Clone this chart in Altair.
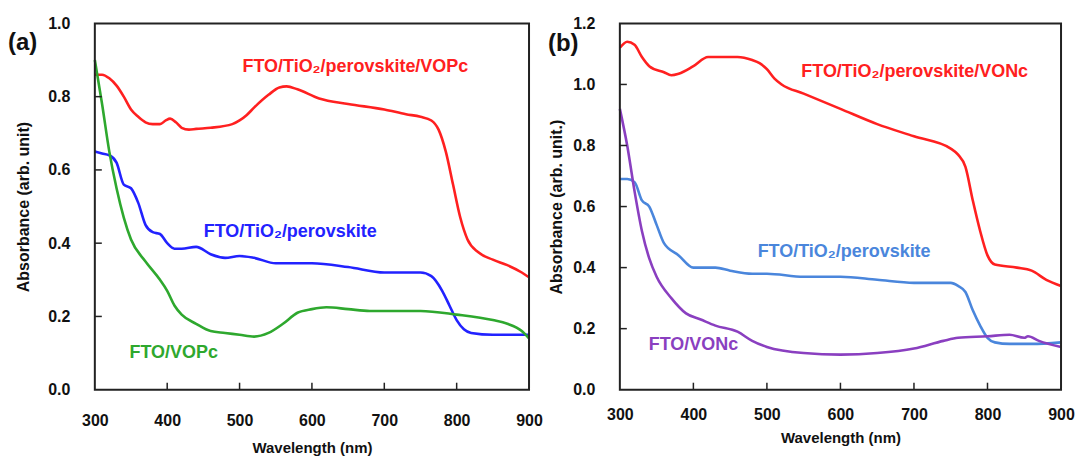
import altair as alt
import pandas as pd

# ---------------- Panel (a) data ----------------
a_red_wl = [300, 310, 320, 330, 340, 350, 360, 370, 380, 390, 398, 404, 412, 420, 430, 440, 460, 490, 500, 510,
            520, 540, 555, 565, 580, 610, 650, 700, 730, 750, 765, 775, 785, 795, 805, 815, 830, 850, 870, 890, 900]
a_red_ab = [0.86, 0.86, 0.85, 0.83, 0.80, 0.765, 0.745, 0.73, 0.725, 0.725, 0.735, 0.74, 0.73, 0.715, 0.71, 0.712,
            0.715, 0.725, 0.735, 0.75, 0.77, 0.805, 0.825, 0.828, 0.82, 0.795, 0.78, 0.765, 0.752, 0.745, 0.735,
            0.71, 0.65, 0.56, 0.47, 0.41, 0.375, 0.355, 0.34, 0.32, 0.307]

a_blue_wl = [300, 310, 320, 330, 340, 350, 360, 370, 380, 390, 400, 410, 420, 440, 460, 480, 500, 520, 550, 600,
             650, 700, 720, 750, 765, 780, 790, 800, 810, 820, 850, 900]
a_blue_ab = [0.65, 0.645, 0.64, 0.62, 0.56, 0.55, 0.51, 0.45, 0.43, 0.425, 0.40, 0.385, 0.385, 0.39, 0.37, 0.36,
             0.365, 0.36, 0.345, 0.345, 0.335, 0.32, 0.32, 0.32, 0.31, 0.27, 0.23, 0.19, 0.165, 0.155, 0.15, 0.15]

a_green_wl = [300, 310, 320, 330, 340, 350, 370, 390, 400, 410, 420, 440, 460, 480, 500, 520, 540, 560, 580, 600,
              620, 650, 680, 700, 750, 800, 850, 870, 890, 900]
a_green_ab = [0.90, 0.78, 0.65, 0.55, 0.47, 0.41, 0.35, 0.30, 0.27, 0.23, 0.205, 0.18, 0.16, 0.155, 0.15, 0.145,
              0.155, 0.18, 0.21, 0.22, 0.225, 0.22, 0.215, 0.215, 0.215, 0.205, 0.19, 0.18, 0.16, 0.14]

a_series = ["FTO/TiO₂/perovskite/VOPc", "FTO/TiO₂/perovskite", "FTO/VOPc"]
a_colors = ["#ff2020", "#2222ff", "#2ea82e"]
a_label_wl = [660, 570, 409]
a_label_ab = [0.88, 0.43, 0.10]

# ---------------- Panel (b) data ----------------
b_red_wl = [300, 310, 320, 330, 340, 360, 370, 380, 400, 420, 440, 460, 480, 490, 500, 510, 520, 550, 600, 650,
            700, 750, 760, 770, 780, 790, 800, 810, 840, 860, 880, 900]
b_red_ab = [1.12, 1.14, 1.13, 1.09, 1.06, 1.04, 1.03, 1.035, 1.06, 1.09, 1.09, 1.09, 1.08, 1.07, 1.05, 1.02, 1.0,
            0.97, 0.92, 0.87, 0.83, 0.79, 0.77, 0.73, 0.62, 0.52, 0.44, 0.41, 0.40, 0.39, 0.36, 0.34]

b_blue_wl = [300, 310, 320, 330, 340, 350, 360, 380, 400, 430, 450, 480, 500, 550, 600, 650, 700, 750, 760, 770,
             780, 790, 800, 810, 830, 860, 900]
b_blue_ab = [0.69, 0.69, 0.68, 0.62, 0.60, 0.54, 0.48, 0.44, 0.40, 0.40, 0.39, 0.38, 0.38, 0.37, 0.37, 0.36, 0.35,
             0.35, 0.34, 0.32, 0.26, 0.21, 0.17, 0.155, 0.15, 0.15, 0.155]

b_purple_wl = [300, 310, 320, 330, 340, 350, 370, 390, 410, 430, 460, 480, 500, 550, 600, 650, 700, 740, 760, 800,
               830, 850, 855, 870, 900]
b_purple_ab = [0.92, 0.80, 0.65, 0.52, 0.43, 0.37, 0.30, 0.25, 0.23, 0.21, 0.19, 0.16, 0.14, 0.12, 0.115, 0.12,
               0.135, 0.16, 0.17, 0.175, 0.18, 0.17, 0.175, 0.16, 0.14]

b_series = ["FTO/TiO₂/perovskite/VONc", "FTO/TiO₂/perovskite ", "FTO/VONc"]
b_colors = ["#ff2020", "#4a86dc", "#8a3fc0"]
b_label_wl = [701, 605, 400]
b_label_ab = [1.04, 0.45, 0.145]

x_values = [300, 400, 500, 600, 700, 800, 900]
x_inner_ticks = [400, 500, 600, 700, 800]
a_y_values = [0.0, 0.2, 0.4, 0.6, 0.8, 1.0]
a_y_inner = [0.2, 0.4, 0.6, 0.8]
b_y_values = [0.0, 0.2, 0.4, 0.6, 0.8, 1.0, 1.2]
b_y_inner = [0.2, 0.4, 0.6, 0.8, 1.0]

FONT = "Liberation Sans"


def make_df(wls, abss, names):
    rows = []
    for wl, ab, nm in zip(wls, abss, names):
        for w, v in zip(wl, ab):
            rows.append({"wl": w, "ab": v, "series": nm})
    return pd.DataFrame(rows)


def panel(df, series, colors, lab_wl, lab_ab, ymax, yvals, yinner, ytitle, tag,
          w, h, xlabpad, xtitlepad, ylabpad, ytitlepad, tagx, tagy):
    xs = alt.Scale(domain=[300, 900], nice=False, zero=False)
    ys = alt.Scale(domain=[0, ymax], nice=False)
    xaxis = alt.Axis(values=x_values, format="d", labelFlush=False, ticks=False, domain=False, grid=False,
                     labelFont=FONT, labelFontSize=16, labelFontWeight="bold", labelColor="#111",
                     labelPadding=xlabpad, title="Wavelength (nm)", titleFont=FONT, titleFontSize=15,
                     titleFontWeight="bold", titleColor="#111", titlePadding=xtitlepad)
    yaxis = alt.Axis(values=yvals, format=".1f", labelFlush=False, ticks=False, domain=False, grid=False,
                     labelFont=FONT, labelFontSize=16, labelFontWeight="bold", labelColor="#111",
                     labelPadding=ylabpad, title=ytitle, titleFont=FONT, titleFontSize=16,
                     titleFontWeight="bold", titleColor="#111", titlePadding=ytitlepad)
    X = alt.X("wl:Q", scale=xs, axis=xaxis)
    Y = alt.Y("ab:Q", scale=ys, axis=yaxis)
    lines = alt.Chart(df).mark_line(strokeWidth=2.6, interpolate="monotone").encode(
        x=X, y=Y,
        color=alt.Color("series:N", scale=alt.Scale(domain=series, range=colors), legend=None),
    )
    ldf = pd.DataFrame({"wl": lab_wl, "ab": lab_ab, "txt": series, "col": colors})
    labels = alt.Chart(ldf).mark_text(font=FONT, fontSize=18, fontWeight="bold").encode(
        x=X, y=Y, text="txt:N", color=alt.Color("col:N", scale=None),
    )
    xt = alt.Chart(pd.DataFrame({"wl": x_inner_ticks})).mark_rule(color="#222", strokeWidth=1.5).encode(
        x=X, y=alt.value(h), y2=alt.value(h - 7))
    yt = alt.Chart(pd.DataFrame({"ab": yinner})).mark_rule(color="#222", strokeWidth=1.5).encode(
        y=Y, x=alt.value(0), x2=alt.value(7))
    frame = alt.Chart(pd.DataFrame({"t": [tag]})).mark_rect(
        fill=None, stroke="#222", strokeWidth=2).encode(
        x=alt.value(0), x2=alt.value(w), y=alt.value(0), y2=alt.value(h))
    tg = alt.Chart(pd.DataFrame({"t": [tag]})).mark_text(
        font=FONT, fontSize=24, fontWeight="bold", align="left", baseline="middle", color="#111").encode(
        x=alt.value(tagx), y=alt.value(tagy), text="t:N")
    return alt.layer(lines, labels, xt, yt, frame, tg).properties(width=w, height=h)


df_a = make_df([a_red_wl, a_blue_wl, a_green_wl], [a_red_ab, a_blue_ab, a_green_ab], a_series)
df_b = make_df([b_red_wl, b_blue_wl, b_purple_wl], [b_red_ab, b_blue_ab, b_purple_ab], b_series)

pa = panel(df_a, a_series, a_colors, a_label_wl, a_label_ab, 1.0, a_y_values, a_y_inner,
           "Absorbance (arb. unit)", "(a)", 435, 367, 23, 12, 25, 16, -87, 20)
pb = panel(df_b, b_series, b_colors, b_label_wl, b_label_ab, 1.2, b_y_values, b_y_inner,
           "Absorbance (arb. unit.)", "(b)", 442, 367, 17, 8, 25, 8, -72, 21)

chart = alt.hconcat(pa, pb, spacing=5).resolve_scale(color="independent").properties(
    padding={"left": 0, "top": 7, "right": 0, "bottom": 0}, background="white"
).configure_view(stroke=None)

chart.save("out.html", embed_options={"renderer": "svg", "actions": False})
